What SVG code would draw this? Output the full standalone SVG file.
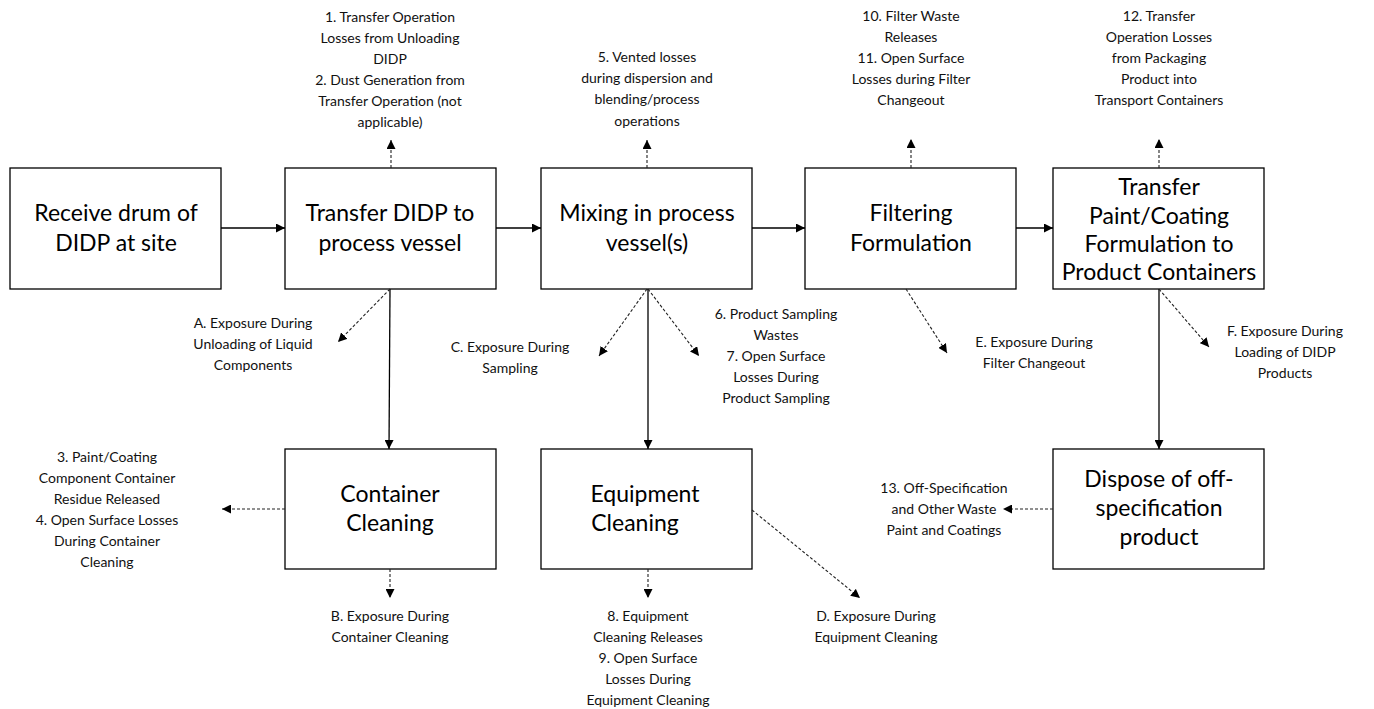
<svg xmlns="http://www.w3.org/2000/svg" width="1374" height="709" viewBox="0 0 1374 709">
  <style>
    .box { fill: #ffffff; stroke: #000000; stroke-width: 1.3; }
    .big { font-family: Lato, "Liberation Sans", sans-serif; font-size: 23px; fill: #000; text-anchor: middle; }
    .small { font-family: Lato, "Liberation Sans", sans-serif; font-size: 14px; fill: #111; text-anchor: middle; }
    .solid { stroke: #000; stroke-width: 1.3; fill: none; marker-end: url(#head); }
    .dash { stroke: #222; stroke-width: 1.1; stroke-dasharray: 3 2; fill: none; marker-end: url(#head); }
  </style>
  <defs>
    <marker id="head" viewBox="0 0 10 10" refX="10" refY="5" markerWidth="9" markerHeight="9" markerUnits="userSpaceOnUse" orient="auto">
      <path d="M0,0 L10,5 L0,10 z" fill="#000"/>
    </marker>
  </defs>
  <rect width="1374" height="709" fill="#ffffff"/>

  <!-- process steps -->
  <g id="receive">
    <rect class="box" x="10" y="168" width="211" height="121"/>
    <text class="big" x="116" y="221">Receive drum of</text>
    <text class="big" x="116" y="251">DIDP at site</text>
  </g>
  <g id="transfer-didp">
    <rect class="box" x="285" y="168" width="211" height="121"/>
    <text class="big" x="390" y="221">Transfer DIDP to</text>
    <text class="big" x="390" y="251">process vessel</text>
  </g>
  <g id="mixing">
    <rect class="box" x="541" y="168" width="211" height="121"/>
    <text class="big" x="647" y="221">Mixing in process</text>
    <text class="big" x="647" y="251">vessel(s)</text>
  </g>
  <g id="filtering">
    <rect class="box" x="805" y="168" width="211" height="121"/>
    <text class="big" x="911" y="221">Filtering</text>
    <text class="big" x="911" y="251">Formulation</text>
  </g>
  <g id="transfer-paint">
    <rect class="box" x="1053" y="168" width="211" height="121"/>
    <text class="big" x="1159" y="195">Transfer</text>
    <text class="big" x="1159" y="224">Paint/Coating</text>
    <text class="big" x="1159" y="252">Formulation to</text>
    <text class="big" x="1159" y="280">Product Containers</text>
  </g>
  <g id="container-cleaning">
    <rect class="box" x="285" y="449" width="211" height="120"/>
    <text class="big" x="390" y="502">Container</text>
    <text class="big" x="390" y="531">Cleaning</text>
  </g>
  <g id="equipment-cleaning">
    <rect class="box" x="541" y="449" width="211" height="120"/>
    <text class="big" x="645" y="502">Equipment</text>
    <text class="big" x="635" y="531">Cleaning</text>
  </g>
  <g id="dispose">
    <rect class="box" x="1053" y="449" width="211" height="120"/>
    <text class="big" x="1159" y="487">Dispose of off-</text>
    <text class="big" x="1159" y="516">specification</text>
    <text class="big" x="1159" y="545">product</text>
  </g>

  <!-- release and exposure labels -->
  <g id="label-1-2" class="small">
    <text x="390" y="22">1. Transfer Operation</text>
    <text x="390" y="43">Losses from Unloading</text>
    <text x="390" y="64">DIDP</text>
    <text x="390" y="85">2. Dust Generation from</text>
    <text x="390" y="106">Transfer Operation (not</text>
    <text x="390" y="127">applicable)</text>
  </g>
  <g id="label-5" class="small">
    <text x="647" y="62">5. Vented losses</text>
    <text x="647" y="83">during dispersion and</text>
    <text x="647" y="104">blending/process</text>
    <text x="647" y="126">operations</text>
  </g>
  <g id="label-10-11" class="small">
    <text x="911" y="21">10. Filter Waste</text>
    <text x="911" y="42">Releases</text>
    <text x="911" y="63">11. Open Surface</text>
    <text x="911" y="84">Losses during Filter</text>
    <text x="911" y="105">Changeout</text>
  </g>
  <g id="label-12" class="small">
    <text x="1159" y="21">12. Transfer</text>
    <text x="1159" y="42">Operation Losses</text>
    <text x="1159" y="63">from Packaging</text>
    <text x="1159" y="84">Product into</text>
    <text x="1159" y="105">Transport Containers</text>
  </g>
  <g id="label-A" class="small">
    <text x="253" y="328">A. Exposure During</text>
    <text x="253" y="349">Unloading of Liquid</text>
    <text x="253" y="370">Components</text>
  </g>
  <g id="label-C" class="small">
    <text x="510" y="352">C. Exposure During</text>
    <text x="510" y="373">Sampling</text>
  </g>
  <g id="label-6-7" class="small">
    <text x="776" y="319">6. Product Sampling</text>
    <text x="776" y="340">Wastes</text>
    <text x="776" y="361">7. Open Surface</text>
    <text x="776" y="382">Losses During</text>
    <text x="776" y="403">Product Sampling</text>
  </g>
  <g id="label-E" class="small">
    <text x="1034" y="347">E. Exposure During</text>
    <text x="1034" y="368">Filter Changeout</text>
  </g>
  <g id="label-F" class="small">
    <text x="1285" y="336">F. Exposure During</text>
    <text x="1285" y="357">Loading of DIDP</text>
    <text x="1285" y="378">Products</text>
  </g>
  <g id="label-3-4" class="small">
    <text x="107" y="462">3. Paint/Coating</text>
    <text x="107" y="483">Component Container</text>
    <text x="107" y="504">Residue Released</text>
    <text x="107" y="525">4. Open Surface Losses</text>
    <text x="107" y="546">During Container</text>
    <text x="107" y="567">Cleaning</text>
  </g>
  <g id="label-13" class="small">
    <text x="944" y="493">13. Off-Specification</text>
    <text x="944" y="514">and Other Waste</text>
    <text x="944" y="535">Paint and Coatings</text>
  </g>
  <g id="label-B" class="small">
    <text x="390" y="621">B. Exposure During</text>
    <text x="390" y="642">Container Cleaning</text>
  </g>
  <g id="label-8-9" class="small">
    <text x="648" y="621">8. Equipment</text>
    <text x="648" y="642">Cleaning Releases</text>
    <text x="648" y="663">9. Open Surface</text>
    <text x="648" y="684">Losses During</text>
    <text x="648" y="705">Equipment Cleaning</text>
  </g>
  <g id="label-D" class="small">
    <text x="876" y="621">D. Exposure During</text>
    <text x="876" y="642">Equipment Cleaning</text>
  </g>

  <!-- connectors -->
  <g id="connectors">
    <!-- main flow -->
    <line class="solid" x1="221" y1="228" x2="285" y2="228"/>
    <line class="solid" x1="496" y1="228" x2="541" y2="228"/>
    <line class="solid" x1="752" y1="228" x2="805" y2="228"/>
    <line class="solid" x1="1016" y1="228" x2="1053" y2="228"/>
    <line class="solid" x1="390" y1="289" x2="389" y2="449"/>
    <line class="solid" x1="648" y1="289" x2="648" y2="449"/>
    <line class="solid" x1="1159" y1="289" x2="1159" y2="449"/>
    <!-- releases -->
    <line class="dash" x1="391" y1="168" x2="391" y2="140"/>
    <line class="dash" x1="647" y1="168" x2="647" y2="140"/>
    <line class="dash" x1="911" y1="168" x2="911" y2="139"/>
    <line class="dash" x1="1159" y1="168" x2="1159" y2="139"/>
    <line class="dash" x1="285" y1="509" x2="222" y2="509"/>
    <line class="dash" x1="1053" y1="509" x2="1003" y2="509"/>
    <line class="dash" x1="390" y1="569" x2="390" y2="598"/>
    <line class="dash" x1="648" y1="569" x2="648" y2="598"/>
    <!-- exposures -->
    <line class="dash" x1="390" y1="289" x2="338" y2="342"/>
    <line class="dash" x1="647" y1="289" x2="599" y2="356"/>
    <line class="dash" x1="648" y1="289" x2="699" y2="356"/>
    <line class="dash" x1="906" y1="289" x2="947" y2="353"/>
    <line class="dash" x1="1159" y1="289" x2="1209" y2="347"/>
    <line class="dash" x1="752" y1="510" x2="860" y2="598"/>
  </g>
</svg>
